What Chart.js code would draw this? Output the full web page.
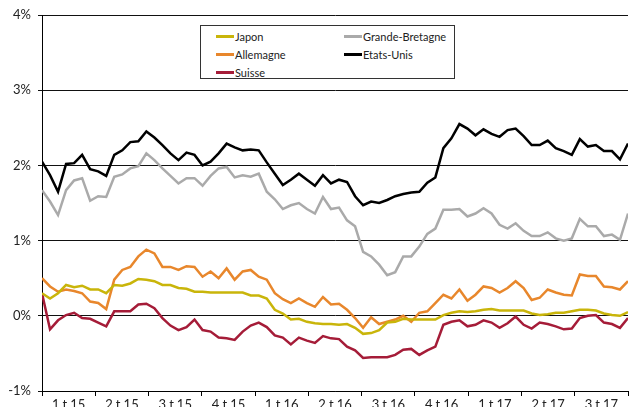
<!DOCTYPE html>
<html>
<head>
<meta charset="utf-8">
<script src="https://cdn.jsdelivr.net/npm/chart.js@4.4.1/dist/chart.umd.min.js"></script>
<style>
  body { margin: 0; background: #fff; }
  #wrap { position: relative; width: 629px; height: 407px; }
  #legend {
    position: absolute; left: 200px; top: 25px; width: 255px; height: 54px;
    border: 1px solid #333; background: #fff;
    font-family: Lato, "Open Sans", sans-serif; font-size: 11px; color: #222;
    display: grid; grid-template-columns: 128px 127px; grid-auto-rows: 18px;
    padding-top: 1px; box-sizing: border-box;
  }
  #legend .item { display: flex; align-items: center; padding-left: 15px; }
  #legend .item span.swatch { display: inline-block; width: 18px; height: 3px; margin-right: 1px; }
</style>
</head>
<body>
<div id="wrap">
  <canvas id="chart"></canvas>
  <div id="legend"></div>
</div>
<script>
// tick labels (quarters)
const quarters = ['1.t.15', '2.t.15', '3.t.15', '4.t.15', '1.t.16', '2.t.16', '3.t.16', '4.t.16', '1.t.17', '2.t.17', '3.t.17'];

// series, roughly every two weeks, in %
const japon = [0.30, 0.23, 0.30, 0.41, 0.38, 0.40, 0.35, 0.35, 0.30, 0.41, 0.40, 0.43, 0.49,
  0.48, 0.46, 0.41, 0.41, 0.37, 0.36, 0.32, 0.32, 0.31, 0.31, 0.31, 0.31,
  0.31, 0.27, 0.27, 0.23, 0.08, 0.03, -0.05, -0.04, -0.08, -0.10, -0.11, -0.11,
  -0.12, -0.11, -0.16, -0.24, -0.23, -0.19, -0.09, -0.08, -0.04, -0.05, -0.05, -0.05,
  -0.05, 0.01, 0.04, 0.06, 0.05, 0.06, 0.08, 0.09, 0.07, 0.07, 0.07, 0.07, 0.03,
  0.01, 0.02, 0.04, 0.04, 0.06, 0.08, 0.08, 0.07, 0.03, 0.01, 0.00, 0.05];

const grandeBretagne = [1.67, 1.52, 1.34, 1.67, 1.80, 1.83, 1.53, 1.59, 1.58, 1.85, 1.88, 1.96, 1.99,
  2.16, 2.07, 1.96, 1.86, 1.76, 1.83, 1.83, 1.73, 1.86, 1.96, 1.98, 1.84,
  1.87, 1.85, 1.89, 1.65, 1.55, 1.42, 1.47, 1.50, 1.42, 1.36, 1.58, 1.42,
  1.44, 1.27, 1.19, 0.85, 0.79, 0.68, 0.54, 0.58, 0.79, 0.79, 0.92, 1.09,
  1.16, 1.41, 1.41, 1.42, 1.32, 1.36, 1.43, 1.36, 1.21, 1.16, 1.23, 1.13, 1.06,
  1.06, 1.11, 1.03, 1.00, 1.03, 1.29, 1.19, 1.19, 1.06, 1.08, 1.01, 1.36];

const allemagne = [0.50, 0.39, 0.32, 0.35, 0.33, 0.30, 0.19, 0.17, 0.09, 0.48, 0.61, 0.65, 0.79,
  0.88, 0.83, 0.65, 0.65, 0.61, 0.66, 0.65, 0.52, 0.59, 0.50, 0.63, 0.48,
  0.59, 0.61, 0.52, 0.48, 0.30, 0.22, 0.17, 0.23, 0.17, 0.12, 0.25, 0.15,
  0.16, 0.08, -0.03, -0.16, -0.02, -0.11, -0.08, -0.05, 0.00, -0.08, 0.04, 0.06,
  0.17, 0.28, 0.23, 0.35, 0.20, 0.28, 0.39, 0.37, 0.31, 0.37, 0.46, 0.37, 0.21,
  0.24, 0.35, 0.31, 0.28, 0.27, 0.55, 0.53, 0.53, 0.39, 0.38, 0.35, 0.46];

const etatsUnis = [2.05, 1.87, 1.65, 2.02, 2.03, 2.14, 1.95, 1.92, 1.86, 2.14, 2.20, 2.31, 2.32,
  2.45, 2.37, 2.27, 2.16, 2.07, 2.17, 2.14, 2.00, 2.05, 2.16, 2.29, 2.24,
  2.20, 2.21, 2.20, 2.04, 1.89, 1.74, 1.81, 1.89, 1.81, 1.73, 1.87, 1.76,
  1.81, 1.78, 1.59, 1.47, 1.52, 1.50, 1.54, 1.59, 1.62, 1.64, 1.65, 1.77,
  1.84, 2.23, 2.36, 2.55, 2.49, 2.40, 2.48, 2.42, 2.38, 2.47, 2.49, 2.39, 2.27,
  2.27, 2.33, 2.23, 2.19, 2.14, 2.35, 2.25, 2.27, 2.19, 2.19, 2.08, 2.29];

const suisse = [0.30, -0.18, -0.06, 0.01, 0.04, -0.03, -0.04, -0.09, -0.14, 0.06, 0.06, 0.06, 0.15,
  0.16, 0.10, -0.03, -0.13, -0.19, -0.15, -0.05, -0.19, -0.21, -0.29, -0.30, -0.32,
  -0.21, -0.13, -0.09, -0.15, -0.26, -0.29, -0.38, -0.29, -0.33, -0.36, -0.27, -0.30,
  -0.31, -0.41, -0.46, -0.56, -0.55, -0.55, -0.55, -0.52, -0.45, -0.44, -0.52, -0.46,
  -0.41, -0.12, -0.08, -0.06, -0.14, -0.12, -0.06, -0.09, -0.16, -0.10, -0.01, -0.12, -0.17,
  -0.09, -0.11, -0.14, -0.18, -0.17, -0.03, 0.00, 0.01, -0.09, -0.11, -0.16, -0.03];

const names = ['Japon', 'Grande-Bretagne', 'Allemagne', 'Etats-Unis', 'Suisse'];
const colors = ['#c9b50a', '#aaaaaa', '#e8872c', '#000000', '#a51c38'];
const series = [japon, grandeBretagne, allemagne, etatsUnis, suisse];

const lastIdx = japon.length - 1;
const font = { family: 'Lato, "Open Sans", sans-serif', size: 13 };

// legend box, two columns
const legend = document.getElementById('legend');
names.forEach((n, i) => {
  const item = document.createElement('div');
  item.className = 'item';
  const sw = document.createElement('span');
  sw.className = 'swatch';
  sw.style.background = colors[i];
  item.appendChild(sw);
  item.appendChild(document.createTextNode(n));
  legend.appendChild(item);
});

const ctx = document.getElementById('chart').getContext('2d');
new Chart(ctx, {
  type: 'line',
  data: {
    datasets: series.map((s, i) => ({
      label: names[i],
      data: s.map((v, k) => ({ x: k, y: v })),
      borderColor: colors[i],
      borderWidth: 2.5,
      pointRadius: 0,
      tension: 0,
      fill: false
    }))
  },
  options: {
    responsive: true,
    maintainAspectRatio: false,
    animation: false,
    layout: { padding: { top: 15, right: 0, bottom: 0, left: 0 } },
    plugins: { legend: { display: false }, tooltip: { enabled: false } },
    scales: {
      x: {
        type: 'linear',
        min: 0,
        max: lastIdx,
        afterBuildTicks: (scale) => {
          scale.ticks = quarters.concat(['']).map((q, i) => ({ value: i * lastIdx / quarters.length }));
        },
        afterFit: (scale) => { scale.height = 16; },
        grid: { drawOnChartArea: false, drawTicks: true, tickLength: 5, color: '#000' },
        border: { display: true, color: '#000', width: 1 },
        ticks: {
          autoSkip: false,
          maxRotation: 0,
          labelOffset: 26.7,
          padding: 1,
          color: '#222',
          font: font,
          callback: (v, i) => quarters[i] || ''
        }
      },
      y: {
        min: -1,
        max: 4,
        afterFit: (scale) => { scale.width = 42; },
        grid: { color: '#111', lineWidth: 1, drawTicks: true, tickLength: 4 },
        border: { display: true, color: '#000', width: 1 },
        ticks: {
          stepSize: 1,
          padding: 7,
          color: '#222',
          font: font,
          callback: (v) => v + '%'
        }
      }
    }
  }
});
</script>
</body>
</html>
